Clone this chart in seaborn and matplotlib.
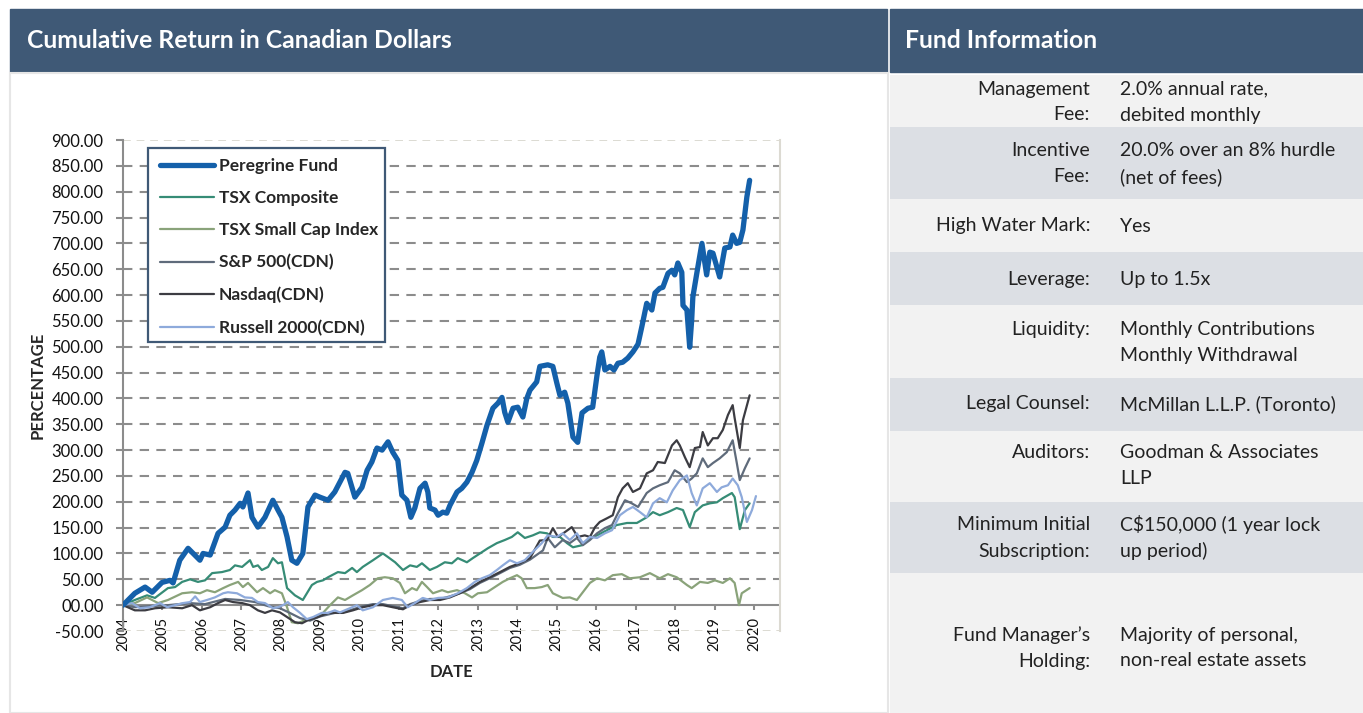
import seaborn as sns
import matplotlib.pyplot as plt
from matplotlib.patches import Rectangle

# ---- data (decimal year, cumulative return %) ----
peregrine = [
    (2004.00, 0), (2004.30, 23), (2004.56, 35), (2004.74, 25), (2004.99, 44), (2005.19, 48),
    (2005.27, 43), (2005.44, 87), (2005.65, 110), (2005.95, 87), (2006.03, 100), (2006.21, 97),
    (2006.41, 139), (2006.59, 151), (2006.71, 174), (2006.84, 184), (2006.97, 197), (2007.04, 190),
    (2007.17, 217), (2007.27, 170), (2007.42, 151), (2007.60, 170), (2007.80, 203), (2007.93, 184),
    (2008.03, 170), (2008.16, 132), (2008.28, 87), (2008.41, 81), (2008.56, 100), (2008.69, 190),
    (2008.87, 213), (2008.99, 209), (2009.20, 203), (2009.37, 219), (2009.63, 257), (2009.70, 255),
    (2009.88, 209), (2010.06, 228), (2010.19, 261), (2010.31, 277), (2010.44, 304), (2010.57, 300),
    (2010.72, 316), (2010.84, 296), (2010.97, 280), (2011.07, 213), (2011.20, 203), (2011.30, 170),
    (2011.40, 188), (2011.53, 226), (2011.66, 236), (2011.73, 219), (2011.78, 188), (2011.91, 184),
    (2011.99, 174), (2012.11, 180), (2012.21, 178), (2012.29, 193), (2012.47, 219), (2012.59, 226),
    (2012.72, 238), (2012.85, 257), (2012.97, 280), (2013.10, 313), (2013.23, 348), (2013.38, 381),
    (2013.51, 391), (2013.61, 402), (2013.68, 373), (2013.76, 354), (2013.89, 381), (2014.01, 383),
    (2014.14, 364), (2014.24, 400), (2014.32, 416), (2014.49, 432), (2014.57, 462), (2014.77, 465),
    (2014.90, 462), (2015.00, 430), (2015.08, 406), (2015.20, 412), (2015.28, 391), (2015.41, 325),
    (2015.53, 315), (2015.64, 372), (2015.79, 381), (2015.91, 383), (2016.02, 445), (2016.09, 480),
    (2016.14, 490), (2016.22, 455), (2016.35, 462), (2016.45, 455), (2016.55, 468), (2016.67, 470),
    (2016.80, 478), (2016.93, 490), (2017.06, 505), (2017.16, 540), (2017.28, 584), (2017.41, 571),
    (2017.49, 604), (2017.61, 613), (2017.69, 615), (2017.82, 642), (2017.92, 648), (2017.99, 639),
    (2018.07, 662), (2018.17, 644), (2018.20, 580), (2018.30, 571), (2018.37, 499), (2018.42, 551),
    (2018.45, 596), (2018.55, 642), (2018.68, 700), (2018.80, 639), (2018.88, 683), (2018.96, 681),
    (2019.13, 635), (2019.26, 691), (2019.39, 693), (2019.46, 716), (2019.56, 700), (2019.64, 702),
    (2019.72, 726), (2019.82, 790), (2019.89, 822),
]

tsx_composite = [
    (2004.00, 0), (2004.30, 10), (2004.61, 19), (2004.81, 14), (2005.14, 33), (2005.32, 35),
    (2005.50, 45), (2005.70, 50), (2005.90, 45), (2006.08, 48), (2006.26, 62), (2006.51, 64),
    (2006.71, 68), (2006.84, 77), (2007.02, 74), (2007.22, 87), (2007.30, 74), (2007.42, 77),
    (2007.52, 68), (2007.68, 74), (2007.80, 91), (2007.93, 81), (2008.03, 83), (2008.16, 33),
    (2008.36, 19), (2008.56, 10), (2008.79, 39), (2008.92, 45), (2009.07, 48), (2009.20, 54),
    (2009.45, 64), (2009.63, 62), (2009.81, 72), (2009.93, 64), (2010.08, 74), (2010.34, 87),
    (2010.59, 100), (2010.72, 93), (2010.90, 83), (2011.10, 68), (2011.28, 77), (2011.45, 74),
    (2011.58, 81), (2011.78, 68), (2011.96, 74), (2012.16, 83), (2012.34, 81), (2012.49, 91),
    (2012.72, 83), (2012.87, 91), (2013.05, 100), (2013.25, 110), (2013.48, 120), (2013.68, 126),
    (2013.86, 132), (2014.01, 141), (2014.19, 130), (2014.39, 135), (2014.57, 141), (2014.75, 139),
    (2014.90, 132), (2015.08, 132), (2015.26, 120), (2015.41, 112), (2015.64, 116), (2015.84, 130),
    (2016.02, 135), (2016.27, 145), (2016.52, 155), (2016.78, 159), (2017.03, 159), (2017.28, 170),
    (2017.44, 180), (2017.61, 174), (2017.82, 180), (2018.04, 188), (2018.20, 184), (2018.37, 151),
    (2018.50, 180), (2018.70, 193), (2018.88, 197), (2019.06, 199), (2019.21, 207), (2019.44, 217),
    (2019.51, 209), (2019.64, 147), (2019.77, 184), (2019.89, 197),
]

tsx_small_cap = [
    (2004.00, 0), (2004.30, 4), (2004.61, 15), (2004.89, 4), (2005.14, 10), (2005.50, 23),
    (2005.75, 25), (2005.95, 23), (2006.13, 29), (2006.33, 25), (2006.54, 33), (2006.71, 39),
    (2006.92, 45), (2007.04, 35), (2007.17, 43), (2007.40, 25), (2007.55, 33), (2007.73, 23),
    (2007.85, 29), (2008.03, 23), (2008.16, -4), (2008.28, -33), (2008.44, -35), (2008.61, -29),
    (2008.87, -25), (2009.07, -15), (2009.25, 0), (2009.45, 15), (2009.63, 10), (2009.83, 19),
    (2010.06, 29), (2010.26, 39), (2010.46, 52), (2010.64, 54), (2010.84, 52), (2011.02, 43),
    (2011.15, 23), (2011.33, 33), (2011.45, 29), (2011.58, 45), (2011.71, 35), (2011.86, 23),
    (2012.09, 29), (2012.24, 25), (2012.47, 29), (2012.67, 23), (2012.85, 15), (2013.00, 23),
    (2013.23, 25), (2013.43, 35), (2013.63, 45), (2013.81, 52), (2013.99, 58), (2014.11, 52),
    (2014.24, 33), (2014.44, 33), (2014.62, 35), (2014.77, 39), (2014.90, 23), (2015.15, 14),
    (2015.33, 15), (2015.51, 10), (2015.66, 25), (2015.84, 43), (2016.02, 52), (2016.22, 48),
    (2016.42, 58), (2016.65, 60), (2016.85, 52), (2017.11, 54), (2017.36, 62), (2017.61, 52),
    (2017.82, 60), (2018.04, 54), (2018.30, 39), (2018.42, 33), (2018.63, 45), (2018.83, 43),
    (2019.01, 48), (2019.21, 43), (2019.39, 52), (2019.51, 43), (2019.62, 0), (2019.69, 23),
    (2019.89, 33),
]

sp500_cdn = [
    (2004.00, 0), (2004.30, -4), (2004.68, -2), (2005.14, 0), (2005.70, 4), (2006.08, 2),
    (2006.59, 12), (2006.97, 10), (2007.35, 6), (2007.68, -2), (2007.98, -6), (2008.23, -15),
    (2008.49, -25), (2008.74, -30), (2008.99, -22), (2009.37, -15), (2009.58, -14), (2009.83, -8),
    (2010.08, -2), (2010.34, 2), (2010.59, 2), (2010.84, -2), (2011.10, -6), (2011.28, 2),
    (2011.53, 8), (2011.78, 12), (2012.04, 12), (2012.29, 17), (2012.54, 23), (2012.80, 31),
    (2013.05, 43), (2013.30, 52), (2013.56, 62), (2013.81, 72), (2014.06, 78), (2014.32, 88),
    (2014.65, 106), (2014.77, 130), (2014.95, 112), (2015.15, 126), (2015.33, 120), (2015.51, 130),
    (2015.66, 116), (2015.84, 126), (2016.02, 139), (2016.22, 149), (2016.40, 155), (2016.55, 178),
    (2016.73, 203), (2016.90, 197), (2017.06, 190), (2017.28, 217), (2017.44, 226), (2017.61, 232),
    (2017.82, 238), (2017.99, 261), (2018.12, 255), (2018.30, 238), (2018.42, 245), (2018.55, 255),
    (2018.70, 284), (2018.83, 267), (2018.96, 275), (2019.13, 284), (2019.31, 296), (2019.46, 319),
    (2019.56, 277), (2019.64, 242), (2019.77, 265), (2019.89, 284),
]

nasdaq_cdn = [
    (2004.00, 0), (2004.30, -10), (2004.56, -10), (2004.81, -6), (2005.14, -4), (2005.50, -6),
    (2005.75, 0), (2005.95, -10), (2006.21, -4), (2006.41, 4), (2006.59, 10), (2006.79, 6),
    (2007.02, 4), (2007.22, 0), (2007.42, -10), (2007.60, -15), (2007.78, -10), (2007.98, -14),
    (2008.16, -23), (2008.36, -33), (2008.54, -35), (2008.69, -29), (2008.94, -23), (2009.20, -15),
    (2009.58, -15), (2009.83, -10), (2010.08, -4), (2010.34, 0), (2010.59, 0), (2010.84, -4),
    (2011.10, -8), (2011.28, 0), (2011.53, 6), (2011.78, 10), (2012.04, 10), (2012.29, 15),
    (2012.54, 23), (2012.80, 33), (2013.05, 45), (2013.30, 54), (2013.56, 64), (2013.81, 74),
    (2014.06, 81), (2014.32, 91), (2014.57, 125), (2014.75, 126), (2014.90, 149), (2015.03, 132),
    (2015.20, 141), (2015.38, 151), (2015.53, 132), (2015.71, 135), (2015.84, 132), (2015.97, 151),
    (2016.09, 161), (2016.27, 168), (2016.42, 174), (2016.55, 209), (2016.67, 226), (2016.80, 236),
    (2016.93, 219), (2017.11, 226), (2017.28, 255), (2017.44, 261), (2017.56, 277), (2017.74, 275),
    (2017.92, 309), (2018.04, 319), (2018.12, 309), (2018.25, 286), (2018.37, 267), (2018.50, 304),
    (2018.63, 306), (2018.70, 335), (2018.83, 309), (2018.96, 323), (2019.08, 323), (2019.21, 339),
    (2019.34, 368), (2019.46, 387), (2019.51, 362), (2019.64, 304), (2019.72, 358), (2019.89, 406),
]

russell_2000_cdn = [
    (2004.00, 0), (2004.23, 4), (2004.43, -6), (2004.68, -4), (2004.94, 4), (2005.12, -4),
    (2005.32, 0), (2005.52, 4), (2005.70, 6), (2005.83, 17), (2005.95, 6), (2006.13, 10),
    (2006.33, 15), (2006.54, 23), (2006.66, 25), (2006.89, 23), (2007.09, 15), (2007.27, 14),
    (2007.42, 6), (2007.60, 4), (2007.80, -6), (2007.93, -4), (2008.06, 0), (2008.18, 6),
    (2008.31, -4), (2008.49, -15), (2008.66, -27), (2008.82, -23), (2009.04, -15), (2009.20, -15),
    (2009.37, -10), (2009.50, -14), (2009.75, -6), (2009.93, 0), (2010.08, -10), (2010.34, -4),
    (2010.59, 10), (2010.84, 14), (2011.07, 10), (2011.22, -4), (2011.40, 4), (2011.60, 14),
    (2011.78, 10), (2011.99, 14), (2012.24, 15), (2012.49, 23), (2012.72, 33), (2012.92, 45),
    (2013.10, 52), (2013.30, 58), (2013.48, 68), (2013.63, 77), (2013.81, 87), (2013.99, 81),
    (2014.19, 87), (2014.39, 103), (2014.62, 120), (2014.77, 135), (2015.00, 132), (2015.15, 139),
    (2015.33, 126), (2015.51, 139), (2015.66, 120), (2015.84, 132), (2016.02, 130), (2016.22, 139),
    (2016.40, 145), (2016.60, 174), (2016.78, 184), (2016.93, 190), (2017.11, 180), (2017.28, 170),
    (2017.44, 197), (2017.61, 207), (2017.79, 199), (2017.94, 222), (2018.12, 242), (2018.30, 251),
    (2018.42, 217), (2018.55, 193), (2018.70, 226), (2018.88, 236), (2019.06, 219), (2019.18, 228),
    (2019.34, 232), (2019.46, 245), (2019.59, 232), (2019.69, 209), (2019.82, 161), (2019.95, 184),
    (2020.05, 211),
]

series_names = ["Peregrine Fund", "TSX Composite", "TSX Small Cap Index",
                "S&P 500(CDN)", "Nasdaq(CDN)", "Russell 2000(CDN)"]
series_data = [peregrine, tsx_composite, tsx_small_cap, sp500_cdn, nasdaq_cdn, russell_2000_cdn]
series_colors = ["#1460aa", "#368c76", "#8aa37a", "#5f6b7b", "#3c3c42", "#8eaadb"]
series_widths = [3.8, 1.6, 1.6, 1.6, 1.6, 1.6]
draw_order = [1, 2, 3, 4, 5, 0]

year_ticks = list(range(2004, 2021))
y_ticks = list(range(-50, 901, 50))
y_tick_labels = ["-50.00", "00.00"] + [f"{v:.2f}" for v in y_ticks[2:]]

info_labels = [["Management", "Fee:"], ["Incentive", "Fee:"], ["High Water Mark:"],
               ["Leverage:"], ["Liquidity:"], ["Legal Counsel:"], ["Auditors:"],
               ["Minimum Initial", "Subscription:"], ["Fund Manager\u2019s", "Holding:"]]
info_values = [["2.0% annual rate,", "debited monthly"], ["20.0% over an 8% hurdle", "(net of fees)"],
               ["Yes"], ["Up to 1.5x"], ["Monthly Contributions", "Monthly Withdrawal"],
               ["McMillan L.L.P. (Toronto)"], ["Goodman & Associates", "LLP"],
               ["C$150,000 (1 year lock", "up period)"], ["Majority of personal,", "non-real estate assets"]]

# ---- layout (pixels) ----
W, H = 1363, 713
HEADER = "#3f5976"
row_edges = [75, 127, 199, 252, 305, 378, 431, 502, 573, 713]
row_text_y = [89, 151, 226, 279, 329, 404, 453, 525, 635]
LINE = 26

sns.set_theme(style="white")
plt.rcParams['font.family'] = ['Lato', 'DejaVu Sans']

fig = plt.figure(figsize=(W / 100, H / 100), dpi=100)
bg = fig.add_axes([0, 0, 1, 1], zorder=0)
bg.set_xlim(0, W)
bg.set_ylim(H, 0)
bg.axis('off')

# headers
bg.add_patch(Rectangle((10, 9), 877, 63, color=HEADER))
bg.add_patch(Rectangle((890, 9), W - 890, 63, color=HEADER))
bg.text(27, 41, "Cumulative Return in Canadian Dollars", color="white", fontsize=17.8,
        fontweight="bold", va="center", ha="left")
bg.text(905, 41, "Fund Information", color="white", fontsize=17.8,
        fontweight="bold", va="center", ha="left")

# left panel frame
bg.add_patch(Rectangle((10, 73), 878, H - 73, facecolor="white", edgecolor="#e6e6e6", lw=1.5))

# info table
for i in range(len(row_edges) - 1):
    top, bot = row_edges[i], row_edges[i + 1]
    col = "#f2f2f2" if i % 2 == 0 else "#dcdfe4"
    bg.add_patch(Rectangle((890, top), W - 890, bot - top, color=col, lw=0))
    for k, txt in enumerate(info_labels[i]):
        bg.text(1090, row_text_y[i] + k * LINE, txt, ha="right", va="center",
                fontsize=14, color="#222222")
    for k, txt in enumerate(info_values[i]):
        bg.text(1120, row_text_y[i] + k * LINE, txt, ha="left", va="center",
                fontsize=14, color="#222222")

# ---- chart ----
ax = fig.add_axes([123 / W, (H - 631) / H, 657 / W, 491 / H], zorder=1)
ax.set_facecolor("white")

for v in y_ticks:
    if v in (-50, 900):
        ax.axhline(v, color="#dcdad2", lw=1.4, ls=(0, (4, 3)), zorder=1)
    elif v != 0:
        ax.axhline(v, color="#8c8c8c", lw=1.5, ls=(0, (4.5, 3.5)), zorder=1)

ax.axhline(0, color="#8c8c8c", lw=1.5, zorder=2)
ax.vlines(year_ticks[1:], -9.5, 0, color="#8c8c8c", lw=1.5, zorder=2)

handles = {}
for idx in draw_order:
    data = series_data[idx]
    sns.lineplot(x=[d[0] for d in data], y=[d[1] for d in data], ax=ax,
                 color=series_colors[idx], linewidth=series_widths[idx],
                 estimator=None, sort=False, zorder=3 + (idx == 0) * 5)
    handles[idx] = ax.lines[-1]

ax.set_xlim(2004, 2020.66)
ax.set_ylim(-50, 900)
ax.set_yticks(y_ticks)
ax.set_yticklabels(y_tick_labels, fontsize=12, color="#111111")
ax.set_xticks(year_ticks)
ax.set_xticklabels([str(y) for y in year_ticks], rotation=90, fontsize=10.5, color="#111111")
ax.tick_params(axis="y", length=5, width=1.5, color="#8c8c8c", pad=9, left=True)
ax.tick_params(axis="x", length=0, pad=-10)

for s in ["top", "bottom"]:
    ax.spines[s].set_visible(False)
ax.spines["right"].set_color("#dcdad2")
ax.spines["right"].set_linewidth(1.5)
ax.spines["left"].set_color("#8c8c8c")
ax.spines["left"].set_linewidth(1.5)

ax.set_xlabel("DATE", fontsize=12, fontweight="bold", labelpad=9)
ax.set_ylabel("PERCENTAGE", fontsize=12, fontweight="bold", labelpad=4)

# legend on an overlay so its frame sits above the grid
top = fig.add_axes([0, 0, 1, 1], zorder=2)
top.set_xlim(0, W)
top.set_ylim(H, 0)
top.axis('off')
top.patch.set_alpha(0)
top.add_patch(Rectangle((148, 148), 237, 194, facecolor="white", edgecolor=HEADER, lw=1.6))
leg = ax.legend([handles[i] for i in range(6)], series_names, loc="upper left",
                bbox_to_anchor=((160 - 123) / 657, (631 - 158) / 491), frameon=False,
                borderpad=0, borderaxespad=0, handlelength=3.1, handletextpad=0.3,
                labelspacing=0.93, prop={"weight": "bold", "size": 12.5})
leg.remove()
top.add_artist(leg)

fig.savefig("out.png", dpi=100)
